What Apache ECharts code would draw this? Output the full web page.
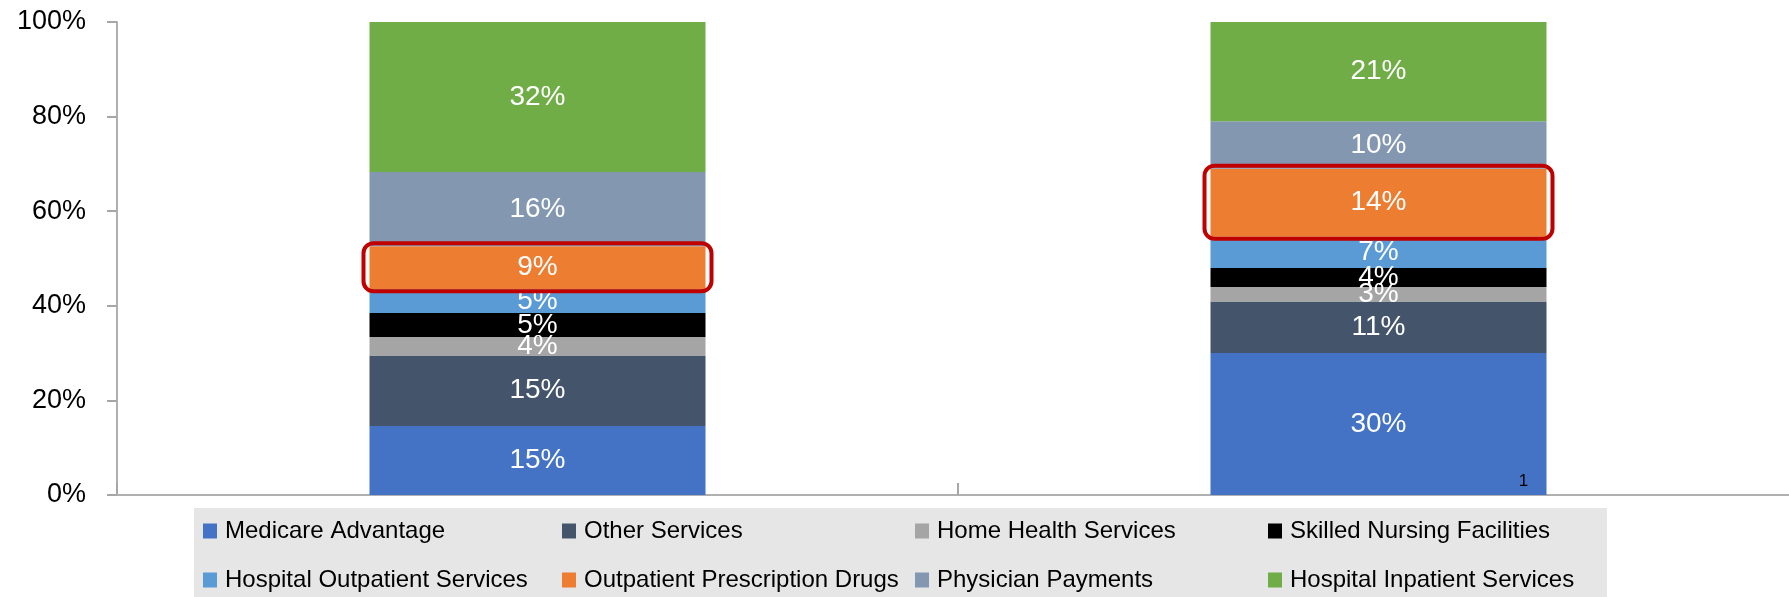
<!DOCTYPE html>
<html><head><meta charset="utf-8">
<script src="https://cdn.jsdelivr.net/npm/echarts@6/dist/echarts.min.js"></script>
<style>html,body{margin:0;padding:0;background:#fff}#c{width:1789px;height:597px}</style>
</head><body><div id="c"></div>
<script>
// ---- data ----
const categories = ['Period 1', 'Period 2'];
const seriesNames = ['Medicare Advantage', 'Other Services', 'Home Health Services', 'Skilled Nursing Facilities',
  'Hospital Outpatient Services', 'Outpatient Prescription Drugs', 'Physician Payments', 'Hospital Inpatient Services'];
const medicareAdvantage   = [14.6, 30.0];
const otherServices       = [14.9, 10.9];
const homeHealth          = [3.9, 3.1];
const skilledNursing      = [5.1, 4.0];
const hospitalOutpatient  = [5.0, 6.6];
const outpatientRx        = [9.1, 14.4];
const physicianPayments   = [15.7, 10.0];
const hospitalInpatient   = [31.7, 21.0];
const yTickLabels = ['0%', '20%', '40%', '60%', '80%', '100%'];
const highlightSeries = 'Outpatient Prescription Drugs';
const footnoteMark = '1';

const seriesValues = [medicareAdvantage, otherServices, homeHealth, skilledNursing,
  hospitalOutpatient, outpatientRx, physicianPayments, hospitalInpatient];
const colors = ['#4472c4', '#44546a', '#a5a5a5', '#000000', '#5b9bd5', '#ed7d31', '#8497b0', '#70ad47'];

const FONT = '"Liberation Sans", Arial, sans-serif';
const chart = echarts.init(document.getElementById('c'), null, {renderer: 'canvas'});

const legendPos = [[203, 519], [562, 519], [915, 519], [1268, 519],
                   [203, 568], [562, 568], [915, 568], [1268, 568]];

const legends = seriesNames.map((n, i) => ({
  show: true, data: [n], left: legendPos[i][0], top: legendPos[i][1], padding: 0,
  itemWidth: 14, itemHeight: 15, icon: 'rect', selectedMode: false,
  textStyle: {fontFamily: FONT, fontSize: 24, color: '#000', lineHeight: 24, padding: [0, 0, 0, 3]}
}));

const option = {
  animation: false,
  color: colors,
  grid: {left: 117, top: 22, width: 1682, height: 473, outerBoundsMode: 'none', containLabel: false},
  legend: legends,
  xAxis: {
    type: 'category', data: categories,
    axisLine: {lineStyle: {color: '#b0b0b0', width: 2}},
    axisTick: {show: true, inside: true, length: 12, lineStyle: {color: '#a6a6a6', width: 2}},
    axisLabel: {show: false}, splitLine: {show: false}
  },
  yAxis: {
    type: 'value', min: 0, max: 100, interval: 20,
    axisLine: {show: true, lineStyle: {color: '#b0b0b0', width: 2}},
    axisTick: {show: true, length: 10, lineStyle: {color: '#a6a6a6', width: 2}},
    splitLine: {show: false},
    axisLabel: {
      margin: 31, fontFamily: FONT, fontSize: 27, color: '#000',
      formatter: (v) => yTickLabels[Math.round(v / 20)]
    }
  },
  series: seriesNames.map((n, i) => ({
    name: n, type: 'bar', stack: 'total', barWidth: 336, data: seriesValues[i],
    itemStyle: {color: colors[i]},
    label: {
      show: true, position: 'inside', color: '#fff', fontFamily: FONT, fontSize: 28,
      formatter: (p) => Math.round(p.value) + '%'
    }
  }))
};
chart.setOption(option);

// annotation graphics computed through the chart's own scales
const hi = seriesNames.indexOf(highlightSeries);
const graphics = [{
  type: 'rect', z: -1, silent: true,
  shape: {x: 194, y: 508, width: 1413, height: 89},
  style: {fill: '#e6e6e6'}
}];
categories.forEach((c, ci) => {
  let base = 0;
  for (let k = 0; k < hi; k++) base += seriesValues[k][ci];
  const top = base + seriesValues[hi][ci];
  const pBot = chart.convertToPixel({xAxisIndex: 0, yAxisIndex: 0}, [ci, base]);
  const pTop = chart.convertToPixel({xAxisIndex: 0, yAxisIndex: 0}, [ci, top]);
  const half = 336 / 2;
  graphics.push({
    type: 'rect', z: 100, silent: true,
    shape: {x: pBot[0] - half - 6, y: pTop[1] - 3, width: 336 + 12, height: (pBot[1] - pTop[1]) + 5, r: 10},
    style: {fill: 'none', stroke: '#c00000', lineWidth: 4}
  });
});
const fp = chart.convertToPixel({xAxisIndex: 0, yAxisIndex: 0}, [1, 0]);
graphics.push({
  type: 'text', z: 100, silent: true,
  x: fp[0] + 145, y: fp[1] - 14,
  style: {text: footnoteMark, fontFamily: FONT, fontSize: 17, fill: '#000', align: 'center', verticalAlign: 'middle'}
});
chart.setOption({graphic: graphics});
</script>
</body></html>
